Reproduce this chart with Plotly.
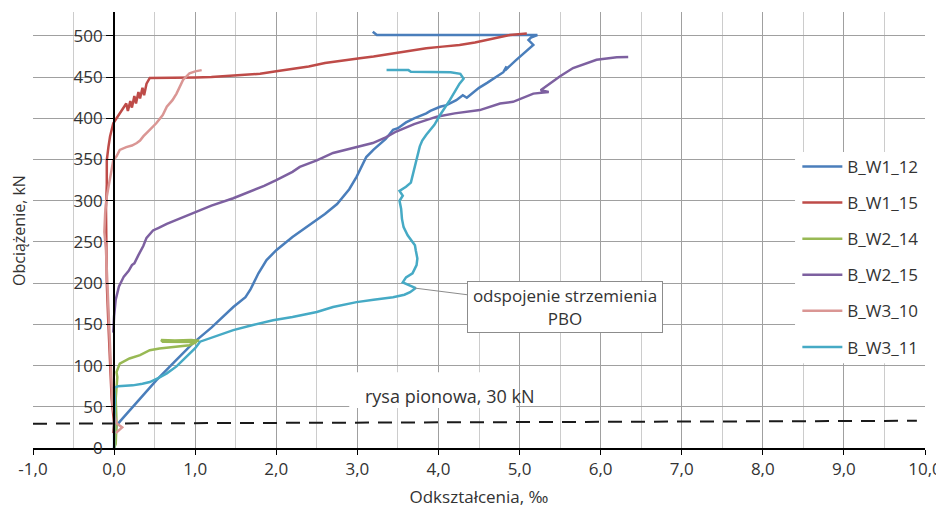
import plotly.graph_objects as go

# ---- data (strain in per mille, load in kN) ----
series_names = ["B_W1_12", "B_W1_15", "B_W2_14", "B_W2_15", "B_W3_10", "B_W3_11"]
series_colors = ["#4A7EBB", "#BE4B48", "#98B954", "#7D60A0", "#DA9694", "#46AAC5"]

w1_12_x = [0.0, 0.01, 0.03, 0.07, 0.3, 0.52, 0.75, 0.97, 1.2, 1.47, 1.62, 1.68, 1.72, 1.78, 1.88, 2.0, 2.2, 2.4,
           2.6, 2.75, 2.9, 2.99, 3.11, 3.2, 3.35, 3.44, 3.5, 3.6, 3.7, 3.85, 3.9, 4.02, 4.1, 4.22, 4.3, 4.35,
           4.47, 4.5, 4.6, 4.7, 4.8, 4.84, 4.82, 4.95, 5.05, 5.13, 5.17, 5.11, 5.14, 5.22, 5.1, 3.24, 3.19]
w1_12_y = [0, 10, 27, 32, 57, 82, 105, 127, 146, 171, 183, 192, 200, 212, 228, 240, 256, 270, 284, 296, 314,
           329, 353, 362, 375, 386, 388, 395, 400, 406, 409, 414, 416, 422, 428, 425, 434, 437, 443, 450, 456,
           463, 458, 470, 479, 485, 489, 495, 498, 501, 501, 501, 505]

w1_15_x = [-0.01, 0.0, -0.03, -0.05, -0.07, -0.09, -0.1, -0.1, -0.09, -0.09, -0.07, -0.05, -0.01, 0.07, 0.12,
           0.15, 0.17, 0.2, 0.22, 0.25, 0.27, 0.3, 0.32, 0.35, 0.37, 0.4, 0.44, 0.6, 1.0, 1.2, 1.5, 1.8, 2.0,
           2.2, 2.4, 2.6, 2.8, 3.03, 3.2, 3.44, 3.65, 3.85, 4.05, 4.26, 4.45, 4.59, 4.75, 4.88, 5.09]
w1_15_y = [18, 30, 60, 100, 150, 200, 250, 290, 320, 349, 365, 378, 394, 406, 412, 418, 409, 421, 413, 427,
           418, 432, 424, 437, 428, 442, 449, 449, 449.5, 450, 452, 454, 457, 460, 463, 467, 470, 473, 475,
           479, 482, 485, 487, 489, 492, 495, 498, 501, 503]

w2_14_x = [0.0, 0.02, 0.03, 0.02, 0.04, 0.03, 0.07, 0.12, 0.19, 0.32, 0.44, 0.56, 0.7, 0.85, 0.93, 1.02,
           0.9, 0.6, 0.58, 0.75, 0.95, 1.05]
w2_14_y = [0, 5, 30, 60, 86, 92, 102.5, 105, 108.6, 112.6, 118.6, 120.7, 122, 123.5, 124.7, 128.7, 129,
           129, 131, 130.5, 131, 130]

w2_15_x = [-0.01, 0.0, 0.02, 0.06, 0.12, 0.18, 0.22, 0.25, 0.3, 0.36, 0.4, 0.48, 0.55, 0.65, 0.8, 1.06, 1.2,
           1.47, 1.67, 1.85, 2.0, 2.2, 2.29, 2.5, 2.7, 2.9, 3.19, 3.35, 3.48, 3.7, 3.98, 4.2, 4.51, 4.76, 4.92,
           5.17, 5.36, 5.26, 5.4, 5.5, 5.66, 5.8, 5.95, 6.1, 6.2, 6.34]
w2_15_y = [140, 160, 180, 196, 208, 215, 222, 224, 234, 245, 255, 264, 267, 272, 278, 289, 294, 303, 311, 318,
           325, 335, 341, 349, 358, 363, 370, 377, 384, 393, 402, 406, 410, 418, 420, 430, 432, 434, 444, 451,
           461, 466, 471, 473, 474, 474.5]

w3_10_x = [0.02, 0.1, 0.03, -0.02, -0.04, -0.06, -0.08, -0.1, -0.12, -0.11, -0.09, -0.06, -0.03, -0.01, 0.03,
           0.07, 0.15, 0.22, 0.28, 0.32, 0.36, 0.44, 0.52, 0.6, 0.65, 0.72, 0.77, 0.85, 0.93, 1.0, 1.06, 1.08]
w3_10_y = [18, 25, 30, 50, 100, 150, 200, 240, 262, 285, 305, 322, 337, 349, 354, 361.6, 365, 367, 370, 373,
           378, 386, 394, 404, 414, 422, 430, 446.6, 454.7, 457, 458, 458.5]

w3_11_x = [0.0, 0.0, 0.01, 0.0, 0.05, 0.23, 0.35, 0.44, 0.55, 0.65, 0.77, 0.89, 1.0, 1.06, 1.2, 1.47, 1.7,
           1.96, 2.2, 2.5, 2.7, 2.99, 3.2, 3.44, 3.58, 3.65, 3.72, 3.62, 3.56, 3.6, 3.68, 3.73, 3.74, 3.72,
           3.71, 3.62, 3.57, 3.55, 3.54, 3.52, 3.56, 3.52, 3.6, 3.66, 3.68, 3.71, 3.73, 3.77, 3.8, 3.85, 3.95,
           4.02, 4.14, 4.26, 4.31, 4.27, 4.15, 3.66, 3.63, 3.36]
w3_11_y = [0, 30, 60, 73, 75, 76, 78, 80, 85, 90.6, 99, 110, 121, 129, 134, 143, 149, 155, 159, 165, 171,
           177, 180, 183, 186, 189, 194, 198, 201, 207, 212, 222, 230, 240, 246, 258, 268, 278, 290, 300, 306,
           312, 317, 322, 330, 341, 352, 366, 373, 380, 392, 404, 422, 442, 448, 454, 456, 456.5, 458.5, 458.5]

crack_x = [-1.0, 9.9]
crack_y = [29.5, 33.0]

x_tick_vals = [-1, 0, 1, 2, 3, 4, 5, 6, 7, 8, 9, 10]
x_tick_text = ["-1,0", "0,0", "1,0", "2,0", "3,0", "4,0", "5,0", "6,0", "7,0", "8,0", "9,0", "10,0"]
y_tick_vals = [0, 50, 100, 150, 200, 250, 300, 350, 400, 450, 500]
y_tick_text = ["0", "50", "100", "150", "200", "250", "300", "350", "400", "450", "500"]

series_x = [w1_12_x, w1_15_x, w2_14_x, w2_15_x, w3_10_x, w3_11_x]
series_y = [w1_12_y, w1_15_y, w2_14_y, w2_15_y, w3_10_y, w3_11_y]

FONT = "Open Sans"
TXT = "#333333"
FS = 17

fig = go.Figure()

fig.add_trace(go.Scatter(x=crack_x, y=crack_y, mode="lines", showlegend=False,
                         line=dict(color="#1a1a1a", width=2, dash="14px,9px"), hoverinfo="skip"))

for name, col, xs, ys in zip(series_names, series_colors, series_x, series_y):
    fig.add_trace(go.Scatter(x=xs, y=ys, mode="lines", name=name, legendgroup=name,
                             line=dict(color=col, width=2.5)))

# white boxes (legend area and crack label background)
fig.add_shape(type="rect", xref="paper", yref="paper", x0=0.8543, x1=1.03, y0=0.1944, y1=0.6787,
              fillcolor="white", line=dict(width=0), layer="above")
fig.add_shape(type="rect", xref="x", yref="y", x0=2.9, x1=4.96, y0=48.5, y1=92,
              fillcolor="white", line=dict(width=0), layer="above")

fig.add_annotation(x=4.14, y=63.3, xref="x", yref="y", text="rysa pionowa, 30 kN", showarrow=False,
                   font=dict(family=FONT, size=18, color=TXT))

fig.add_annotation(x=3.71, y=194, xref="x", yref="y", ax=5.56, ay=170.9, axref="x", ayref="y",
                   text="odspojenie strzemienia<br>PBO", showarrow=True, arrowhead=0, arrowwidth=1,
                   arrowcolor="#8c8c8c", bordercolor="#8c8c8c", borderwidth=1, borderpad=4,
                   bgcolor="white", width=186, height=42,
                   font=dict(family=FONT, size=FS, color=TXT))

fig.add_annotation(x=-0.0157, y=0.5, xref="paper", yref="paper", text="Obciążenie, kN", textangle=-90,
                   xanchor="center", yanchor="middle",
                   showarrow=False, font=dict(family=FONT, size=16, color=TXT))

fig.update_layout(
    width=936, height=500,
    margin=dict(l=25, r=19, t=4, b=60.3, autoexpand=False),
    plot_bgcolor="white", paper_bgcolor="white",
    font=dict(family=FONT, size=FS, color=TXT),
    legend=dict(x=0.8569, y=0.686, xanchor="left", yanchor="top", bgcolor="rgba(0,0,0,0)",
                traceorder="grouped", tracegroupgap=11, itemwidth=40,
                font=dict(family=FONT, size=FS, color=TXT)),
    xaxis=dict(range=[-1, 10], tickvals=x_tick_vals, ticktext=x_tick_text, automargin=False,
               showgrid=True, gridcolor="#a0a0a0", gridwidth=1,
               minor=dict(dtick=0.5, showgrid=True, gridcolor="#cccccc", gridwidth=1),
               showline=True, linecolor="black", linewidth=1.5, ticks="outside", ticklen=5,
               tickcolor="black", zeroline=False,
               title=dict(text="Odkształcenia, ‰", font=dict(family=FONT, size=FS, color=TXT), standoff=17)),
    yaxis=dict(range=[0, 529], tickvals=y_tick_vals, ticktext=y_tick_text, anchor="free", position=1 / 11,
               automargin=False, showgrid=True, gridcolor="#a0a0a0", gridwidth=1,
               showline=True, linecolor="black", linewidth=2, ticks="outside", ticklen=7,
               tickcolor="black", zeroline=False),
)

fig.write_html("out.html")
